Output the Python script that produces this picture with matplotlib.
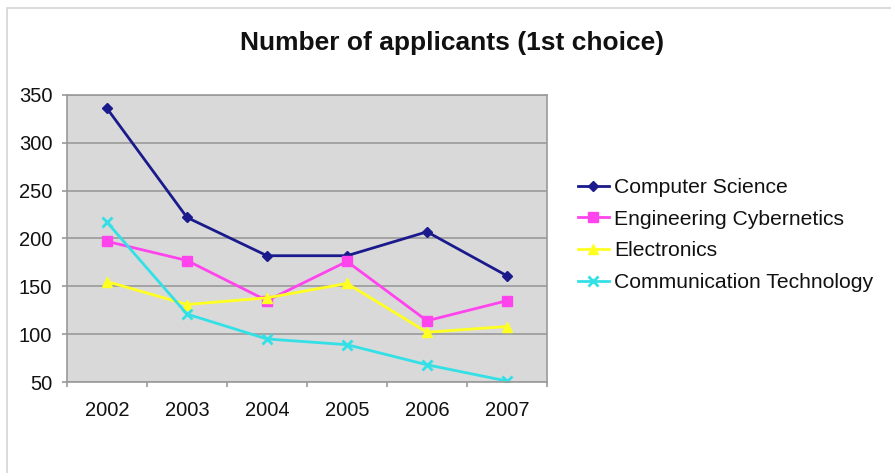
import matplotlib
matplotlib.use("Agg")
import matplotlib.pyplot as plt
from matplotlib.patches import Rectangle

years = ["2002", "2003", "2004", "2005", "2006", "2007"]
computer_science = [336, 222, 182, 182, 207, 161]
engineering_cybernetics = [197, 177, 135, 176, 114, 135]
electronics = [155, 131, 138, 153, 102, 108]
communication_technology = [217, 121, 95, 89, 68, 51]
y_ticks = [50, 100, 150, 200, 250, 300, 350]

plt.rcParams['font.family'] = ['Liberation Sans', 'DejaVu Sans']

fig = plt.figure(figsize=(8.91, 4.73), dpi=100)
fig.patch.set_facecolor('white')
# outer chart frame
fig.patches.append(Rectangle((7/891, -0.1), 1.0, 1.1 - 8/473, transform=fig.transFigure,
                             fill=False, edgecolor='#d4d4d4', linewidth=1.2))

ax = fig.add_axes([67/891, 91/473, 480/891, 287/473])
ax.set_facecolor('#d9d9d9')
x = list(range(len(years)))

series = [
    ("Computer Science", computer_science, '#1a1a8c', 'D', 5),
    ("Engineering Cybernetics", engineering_cybernetics, '#ff44ee', 's', 7),
    ("Electronics", electronics, '#ffff22', '^', 7),
    ("Communication Technology", communication_technology, '#33e0e6', 'x', 7),
]
for name, vals, col, mk, ms in series:
    kw = dict(markeredgewidth=2) if mk == 'x' else dict(markeredgecolor=col)
    ax.plot(x, vals, color=col, linewidth=2, marker=mk, markersize=ms,
            markerfacecolor=col, label=name, **kw)

ax.set_ylim(50, 350)
ax.set_xlim(-0.5, len(years) - 0.5)
ax.set_yticks(y_ticks)
ax.set_yticklabels([str(v) for v in y_ticks], fontsize=14.5, color='#111111')
ax.yaxis.grid(True, color='#9a9a9a', linewidth=1.2)
ax.set_axisbelow(True)
ax.set_xticks(x)
ax.set_xticklabels(years, fontsize=14.5, color='#111111')
ax.tick_params(axis='x', which='major', length=0, pad=14)
ax.set_xticks([i - 0.5 for i in range(len(years) + 1)], minor=True)
ax.tick_params(axis='x', which='minor', length=3.6, color='#9a9a9a', width=1.2)
ax.tick_params(axis='y', length=3.6, color='#9a9a9a', width=1.2, pad=7)
for s in ax.spines.values():
    s.set_color('#9a9a9a')
    s.set_linewidth(1.2)

fig.text(452/891, 1 - 43/473, "Number of applicants (1st choice)", ha='center', va='center',
         fontsize=19, fontweight='bold', color='#111111')

leg = ax.legend(loc='center left', bbox_to_anchor=(578/891, 1 - 235/473),
                bbox_transform=fig.transFigure, frameon=False, fontsize=15.2,
                handlelength=1.45, handletextpad=0.25, labelspacing=0.6, borderpad=0,
                borderaxespad=0)
for t in leg.get_texts():
    t.set_color('#111111')

fig.savefig("out.png", dpi=100, facecolor='white')
